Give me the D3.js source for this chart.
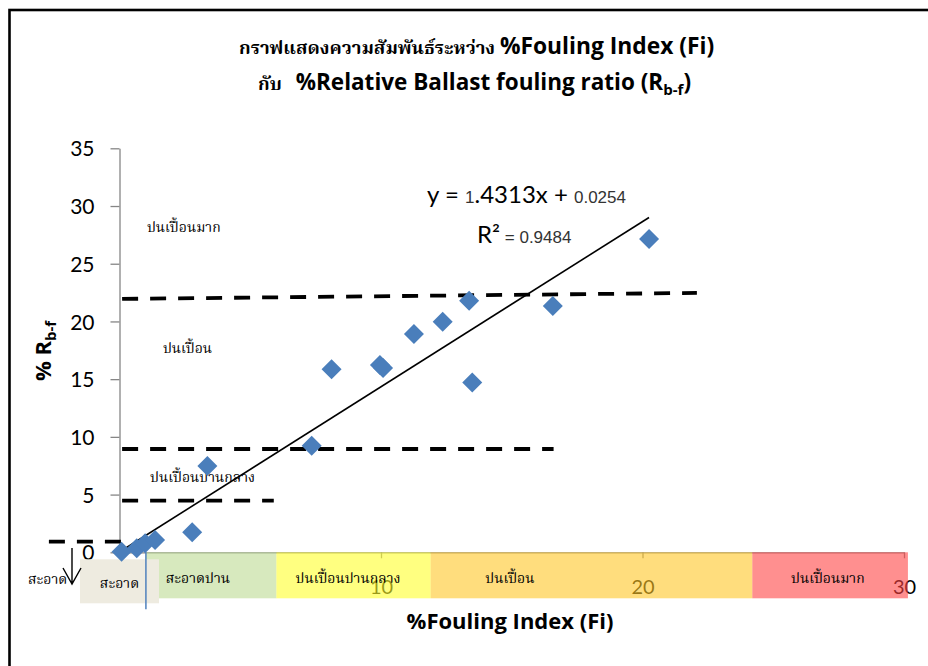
<!DOCTYPE html>
<html>
<head>
<meta charset="utf-8">
<script src="https://cdn.jsdelivr.net/npm/d3@7"></script>
<style>
  html, body { margin: 0; padding: 0; background: #fff; }
  svg { display: block; }
  .thai { font-family: "Noto Serif Thai", "Noto Sans Thai", "Loma", "Garuda", "Tlwg Typo", serif; }
  .bold { font-family: "Open Sans", "Lato", sans-serif; font-weight: bold; }
</style>
</head>
<body>
<svg id="chart" width="928" height="666"></svg>
<script>
// Measured points: %Fouling Index (Fi) vs %Relative Ballast fouling ratio (Rb-f)
const fi  = [0.08, 0.66, 0.98, 1.36, 2.78, 3.36, 7.35, 8.11, 9.96, 10.08, 11.26, 12.36, 13.37, 13.49, 16.57, 20.25];
const rbf = [0.05, 0.35, 0.78, 1.07, 1.73, 7.48, 9.24, 15.86, 16.23, 15.97, 18.92, 19.98, 21.80, 14.70, 21.34, 27.15];

// Linear trend: y = slope * x + intercept
const trendSlope = 1.4313;
const trendIntercept = 0.0254;
const rSquared = 0.9484;

// Axis ticks (the x origin label sits under the "clean" box)
const xTicks = [10, 20, 30];
const yTicks = [0, 5, 10, 15, 20, 25, 30, 35];

// Fi classification bands along the x axis
const bandNames = ["สะอาดปาน", "ปนเปื้อนปานกลาง", "ปนเปื้อน", "ปนเปื้อนมาก"];
const bandStart = [1.01, 6.0, 11.9, 24.2];
const bandEnd   = [6.0, 11.9, 24.2, 30.15];
const bandLabelX = [3.0, 8.74, 14.93, 27.09];
const bandFill  = ["#BCDA93", "#FFFF2B", "#FFC626", "#FF4444"];

// Rb-f zone boundaries (dashed), in data units
const zoneLineFrom = [[-2.7, 0.92], [0.1, 4.47], [0.1, 8.95], [0.1, 21.95]];
const zoneLineTo   = [[0.06, 0.92], [5.9, 4.47], [16.6, 8.95], [22.08, 22.47]];

// Rb-f zone names and their anchor in data units
const zoneNames = ["ปนเปื้อนมาก", "ปนเปื้อน", "ปนเปื้อนปานกลาง"];
const zoneAnchor = [[1.05, 28.2], [1.66, 17.7], [1.17, 6.55]];

const svg = d3.select("#chart");
const W = 928, H = 666;

const x = d3.scaleLinear().domain([0, 30]).range([119.5, 904]);
const y = d3.scaleLinear().domain([0, 35]).range([552.3, 148.3]);

// outer frame
svg.append("rect")
  .attr("x", 9.5).attr("y", 10).attr("width", W + 10).attr("height", H + 10)
  .attr("fill", "#fff").attr("stroke", "#000").attr("stroke-width", 2.6);

// title
const t1 = svg.append("text").attr("x", 239).attr("y", 54).attr("fill", "#000");
t1.append("tspan").attr("class", "thai").attr("font-size", 18.5).attr("font-weight", "bold")
  .text("กราฟแสดงความสัมพันธ์ระหว่าง ");
t1.append("tspan").attr("class", "bold").attr("font-size", 22.8)
  .text("%Fouling Index (Fi)");
const t2 = svg.append("text").attr("x", 258).attr("y", 90).attr("fill", "#000");
t2.append("tspan").attr("class", "thai").attr("font-size", 18.5).attr("font-weight", "bold").text("กับ");
t2.append("tspan").attr("class", "bold").attr("font-size", 22.5).attr("dx", 14)
  .text("%Relative Ballast fouling ratio (R");
t2.append("tspan").attr("class", "bold").attr("font-size", 15)
  .attr("dy", 5).text("b-f");
t2.append("tspan").attr("class", "bold").attr("font-size", 22.5)
  .attr("dy", -5).text(")");

// y axis
const yAxis = d3.axisLeft(y).tickValues(yTicks).tickSize(9).tickSizeOuter(0).tickPadding(16);
const gy = svg.append("g").attr("transform", `translate(${x(0)},0)`).call(yAxis);
gy.select(".domain").attr("stroke", "#868686").attr("stroke-width", 1.3);
gy.selectAll(".tick line").attr("stroke", "#868686").attr("stroke-width", 1.3);
gy.selectAll(".tick text").attr("font-size", 21).attr("fill", "#000")
  .attr("font-family", "Lato, 'Open Sans', sans-serif").attr("dy", "0.36em");

// y axis title
const yt = svg.append("text")
  .attr("transform", "translate(51,351) rotate(-90)")
  .attr("text-anchor", "middle").attr("class", "bold");
yt.append("tspan").attr("font-size", 22).text("% R");
yt.append("tspan").attr("font-size", 15).attr("dy", 5).text("b-f");

// x axis (drawn before the bands; bands are translucent over it)
const xAxis = d3.axisBottom(x).tickValues(xTicks).tickSize(6).tickSizeOuter(0).tickPadding(22);
const gx = svg.append("g").attr("transform", `translate(0,${y(0)})`).call(xAxis);
gx.select(".domain").attr("stroke", "#868686").attr("stroke-width", 1.3);
gx.selectAll(".tick line").attr("stroke", "#868686").attr("stroke-width", 1.3);
gx.selectAll(".tick text").attr("font-size", 20).attr("fill", "#000")
  .attr("font-family", "Lato, 'Open Sans', sans-serif");

// classification bands below the x axis
const bands = svg.append("g");
bandNames.forEach((name, i) => {
  bands.append("rect")
    .attr("x", x(bandStart[i])).attr("y", y(0))
    .attr("width", x(bandEnd[i]) - x(bandStart[i])).attr("height", 46)
    .attr("fill", bandFill[i]).attr("fill-opacity", 0.6);
  bands.append("text").attr("class", "thai")
    .attr("x", x(bandLabelX[i]))
    .attr("y", y(0) + 31)
    .attr("text-anchor", "middle").attr("font-size", 14).attr("fill", "#000")
    .text(name);
});

// "clean" box over the origin
bands.append("rect")
  .attr("x", x(-1.51)).attr("y", y(0) + 7)
  .attr("width", x(1.51) - x(-1.51)).attr("height", 44)
  .attr("fill", "#EEEBE0");
bands.append("text").attr("class", "thai")
  .attr("x", x(0)).attr("y", y(0) + 36)
  .attr("text-anchor", "middle").attr("font-size", 14).attr("fill", "#000")
  .text("สะอาด");
// thin blue divider at Fi = 1
bands.append("line")
  .attr("x1", x(1.01)).attr("x2", x(1.01))
  .attr("y1", y(0)).attr("y2", y(0) + 57)
  .attr("stroke", "#4F81BD").attr("stroke-width", 1.5);

// left "clean" label with down arrow
svg.append("text").attr("class", "thai")
  .attr("x", 28).attr("y", 584).attr("font-size", 14).attr("fill", "#000")
  .text("สะอาด");
svg.append("path")
  .attr("d", d3.line()([[72, 548], [72, 584]]) + d3.line()([[63, 568], [72, 584], [81, 568]]))
  .attr("fill", "none").attr("stroke", "#000").attr("stroke-width", 1.4);

// x axis title
svg.append("text").attr("class", "bold")
  .attr("x", 510).attr("y", 629).attr("text-anchor", "middle")
  .attr("font-size", 22).attr("fill", "#000")
  .text("%Fouling Index (Fi)");

// dashed zone boundaries
svg.append("g").selectAll("line")
  .data(zoneLineFrom.map((p, i) => [p, zoneLineTo[i]]))
  .join("line")
  .attr("x1", d => x(d[0][0])).attr("y1", d => y(d[0][1]))
  .attr("x2", d => x(d[1][0])).attr("y2", d => y(d[1][1]))
  .attr("stroke", "#000").attr("stroke-width", 3.8)
  .attr("stroke-dasharray", "16 12");

// zone names
svg.append("g").selectAll("text")
  .data(zoneNames)
  .join("text").attr("class", "thai")
  .attr("x", (d, i) => x(zoneAnchor[i][0]))
  .attr("y", (d, i) => y(zoneAnchor[i][1]) + 5)
  .attr("font-size", 14).attr("fill", "#000")
  .text(d => d);

// trend line
const xMax = d3.max(fi);
svg.append("line")
  .attr("x1", x(0)).attr("y1", y(trendIntercept))
  .attr("x2", x(xMax)).attr("y2", y(trendSlope * xMax + trendIntercept))
  .attr("stroke", "#000").attr("stroke-width", 1.6);

// data markers (diamonds)
const diamond = "M0,-10L10,0L0,10L-10,0Z";
svg.append("g").selectAll("path")
  .data(fi.map((v, i) => [v, rbf[i]]))
  .join("path")
  .attr("d", diamond)
  .attr("transform", d => `translate(${x(d[0])},${y(d[1])})`)
  .attr("fill", "#4A7EBB");

// equation and R²
const eq = svg.append("text").attr("x", 427).attr("y", 203).attr("fill", "#000");
eq.append("tspan").attr("font-family", "Lato, sans-serif").attr("font-size", 24).text("y = ");
eq.append("tspan").attr("font-family", "'Liberation Sans', Arial, sans-serif").attr("font-size", 17).attr("fill", "#333").text(String(trendSlope).slice(0, 1));
eq.append("tspan").attr("font-family", "Lato, sans-serif").attr("font-size", 24).text(String(trendSlope).slice(1) + "x + ");
eq.append("tspan").attr("font-family", "'Liberation Sans', Arial, sans-serif").attr("font-size", 17).attr("fill", "#333").text(trendIntercept.toFixed(4));

const r2 = svg.append("text").attr("x", 477).attr("y", 243).attr("fill", "#000");
r2.append("tspan").attr("font-family", "Lato, sans-serif").attr("font-size", 24).text("R²");
r2.append("tspan").attr("font-family", "'Liberation Sans', Arial, sans-serif").attr("font-size", 17).attr("fill", "#333").text(" = " + rSquared.toFixed(4));
</script>
</body>
</html>
